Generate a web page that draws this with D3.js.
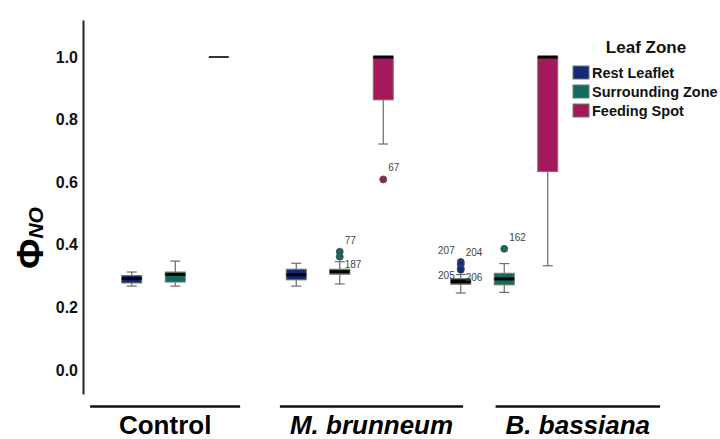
<!DOCTYPE html>
<html>
<head>
<meta charset="utf-8">
<script src="https://cdn.jsdelivr.net/npm/d3@7"></script>
<style>
  body { margin: 0; background: #fff; }
  svg { font-family: "Liberation Sans", Arial, sans-serif; }
</style>
</head>
<body>
<div id="chart"></div>
<script>
const groups = ["Control", "M. brunneum", "B. bassiana"];
const zones = ["Rest Leaflet", "Surrounding Zone", "Feeding Spot"];
const zoneColors = ["#13297a", "#136a5e", "#a3195b"];
const yTicks = [0.0, 0.2, 0.4, 0.6, 0.8, 1.0];

// box statistics per zone, one value per group (Control, M. brunneum, B. bassiana)
const whiskerLow = [
  [0.268, 0.268, 0.246],
  [0.268, 0.275, 0.248],
  [1.000, 0.722, 0.333]
];
const q1 = [
  [0.278, 0.288, 0.274],
  [0.281, 0.306, 0.272],
  [1.000, 0.863, 0.634]
];
const median = [
  [0.292, 0.304, 0.283],
  [0.305, 0.314, 0.291],
  [1.000, 1.000, 1.000]
];
const q3 = [
  [0.302, 0.322, 0.292],
  [0.313, 0.322, 0.309],
  [1.000, 1.000, 1.000]
];
const whiskerHigh = [
  [0.313, 0.341, 0.305],
  [0.348, 0.346, 0.340],
  [1.000, 1.000, 1.000]
];

// outliers: group, zone, value, case label, label side
const outlierGroup = [1, 1, 1, 2, 2, 2, 2, 2];
const outlierZone  = [2, 1, 1, 0, 0, 0, 0, 1];
const outlierValue = [0.609, 0.378, 0.362, 0.345, 0.338, 0.325, 0.320, 0.387];
const outlierLabel = ["67", "77", "187", "207", "204", "205", "206", "162"];
const outlierSide  = ["ne", "ne", "se", "nw", "ne", "sw", "se", "ne"];

const W = 720, H = 439;
const svg = d3.select("#chart").append("svg")
    .attr("width", W)
    .attr("height", H);

// Scales
const y = d3.scaleLinear()
    .domain([-0.0767, 1.1182])
    .range([394, 20]);

const xGroup = d3.scaleBand()
    .domain(groups)
    .range([93, 586.5]);

const xZone = d3.scalePoint()
    .domain(zones)
    .range([-43.5, 43.5]);

const xLabel = d3.scaleBand()
    .domain(groups)
    .range([62, 681]);

const cx = (g, z) => xGroup(groups[g]) + xGroup.bandwidth() / 2 + xZone(zones[z]);
const boxW = 20, capW = 10;

// Y axis
const yAxis = svg.append("g")
    .attr("transform", "translate(83,0)")
    .call(d3.axisLeft(y).tickValues(yTicks).tickFormat(d3.format(".1f")).tickSize(0).tickPadding(5));
yAxis.select(".domain").attr("stroke", "#222").attr("stroke-width", 2);
yAxis.selectAll("text")
    .attr("fill", "#111")
    .style("font-size", "16px")
    .style("font-weight", "bold");

// Y title
svg.append("text")
    .attr("transform", "translate(43,238) rotate(-90)")
    .attr("text-anchor", "middle")
    .attr("fill", "#000")
    .call(t => {
        t.append("tspan").style("font-size", "37px").style("font-weight", "bold").text("Φ");
        t.append("tspan").style("font-size", "21px").style("font-weight", "bold").style("font-style", "italic").text("NO");
    });

// Boxes
const boxes = [];
zones.forEach((z, zi) => groups.forEach((g, gi) => boxes.push({ g: gi, z: zi })));

const bx = svg.append("g").selectAll("g")
    .data(boxes)
    .enter()
    .append("g");

// whiskers
bx.append("line")
    .attr("x1", d => cx(d.g, d.z)).attr("x2", d => cx(d.g, d.z))
    .attr("y1", d => y(whiskerLow[d.z][d.g])).attr("y2", d => y(q1[d.z][d.g]))
    .attr("stroke", "#6a6a6a").attr("stroke-width", 1.2);
bx.append("line")
    .attr("x1", d => cx(d.g, d.z)).attr("x2", d => cx(d.g, d.z))
    .attr("y1", d => y(whiskerHigh[d.z][d.g])).attr("y2", d => y(q3[d.z][d.g]))
    .attr("stroke", "#6a6a6a").attr("stroke-width", 1.2);
bx.filter(d => whiskerLow[d.z][d.g] < q1[d.z][d.g]).append("line")
    .attr("x1", d => cx(d.g, d.z) - capW / 2).attr("x2", d => cx(d.g, d.z) + capW / 2)
    .attr("y1", d => y(whiskerLow[d.z][d.g])).attr("y2", d => y(whiskerLow[d.z][d.g]))
    .attr("stroke", "#6a6a6a").attr("stroke-width", 1.2);
bx.filter(d => whiskerHigh[d.z][d.g] > q3[d.z][d.g]).append("line")
    .attr("x1", d => cx(d.g, d.z) - capW / 2).attr("x2", d => cx(d.g, d.z) + capW / 2)
    .attr("y1", d => y(whiskerHigh[d.z][d.g])).attr("y2", d => y(whiskerHigh[d.z][d.g]))
    .attr("stroke", "#6a6a6a").attr("stroke-width", 1.2);

// box body
bx.append("rect")
    .attr("x", d => cx(d.g, d.z) - boxW / 2)
    .attr("width", boxW)
    .attr("y", d => y(q3[d.z][d.g]))
    .attr("height", d => y(q1[d.z][d.g]) - y(q3[d.z][d.g]))
    .attr("fill", d => zoneColors[d.z])
    .attr("stroke", "#6f7d62")
    .attr("stroke-width", 1);

// median
bx.append("line")
    .attr("x1", d => cx(d.g, d.z) - boxW / 2).attr("x2", d => cx(d.g, d.z) + boxW / 2)
    .attr("y1", d => y(median[d.z][d.g])).attr("y2", d => y(median[d.z][d.g]))
    .attr("stroke", d => q1[d.z][d.g] === q3[d.z][d.g] ? "#333" : "#000")
    .attr("stroke-width", d => q1[d.z][d.g] === q3[d.z][d.g] ? 2 : 3);

// Outliers
const outliers = outlierValue.map((v, i) => ({
    g: outlierGroup[i], z: outlierZone[i], v, label: outlierLabel[i], side: outlierSide[i]
}));

const og = svg.append("g");
og.selectAll("text")
    .data(outliers)
    .enter()
    .append("text")
    .attr("x", d => cx(d.g, d.z) + (d.side[1] === "e" ? 5 : -6))
    .attr("y", d => y(d.v) + (d.side[0] === "n" ? -8 : 11))
    .attr("text-anchor", d => d.side[1] === "e" ? "start" : "end")
    .attr("fill", "#444")
    .style("font-size", "10px")
    .text(d => d.label);

og.selectAll("circle")
    .data(outliers)
    .enter()
    .append("circle")
    .attr("cx", d => cx(d.g, d.z))
    .attr("cy", d => y(d.v))
    .attr("r", 3.5)
    .attr("fill", d => zoneColors[d.z])
    .attr("stroke", "#4a4a4a")
    .attr("stroke-width", 0.8);

// X category labels with underlines
const xl = svg.append("g").selectAll("g")
    .data(groups)
    .enter()
    .append("g");

xl.append("text")
    .attr("x", d => xLabel(d) + xLabel.bandwidth() / 2)
    .attr("y", 434)
    .attr("text-anchor", "middle")
    .attr("fill", "#000")
    .style("font-size", "26px")
    .style("font-weight", "bold")
    .style("font-style", (d, i) => i === 0 ? "normal" : "italic")
    .text(d => d);

xl.each(function (d) {
    const tw = d3.select(this).select("text").node().getComputedTextLength();
    const lw = Math.max(tw + 20, 150);
    const c = xLabel(d) + xLabel.bandwidth() / 2;
    d3.select(this).append("line")
        .attr("x1", c - lw / 2).attr("x2", c + lw / 2)
        .attr("y1", 406.5).attr("y2", 406.5)
        .attr("stroke", "#111")
        .attr("stroke-width", 2.5);
});

// Legend
const legend = svg.append("g");
legend.append("text")
    .attr("x", 646)
    .attr("y", 53)
    .attr("text-anchor", "middle")
    .attr("fill", "#111")
    .style("font-size", "17px")
    .style("font-weight", "bold")
    .text("Leaf Zone");

const li = legend.selectAll("g.item")
    .data(zones)
    .enter()
    .append("g")
    .attr("class", "item")
    .attr("transform", (d, i) => `translate(573,${66 + i * 19})`);

li.append("rect")
    .attr("width", 16)
    .attr("height", 13)
    .attr("fill", (d, i) => zoneColors[i])
    .attr("stroke", "#6f7d62")
    .attr("stroke-width", 1);

li.append("text")
    .attr("x", 19)
    .attr("y", 11.5)
    .attr("fill", "#111")
    .style("font-size", "14.5px")
    .style("font-weight", "bold")
    .text(d => d);
</script>
</body>
</html>
